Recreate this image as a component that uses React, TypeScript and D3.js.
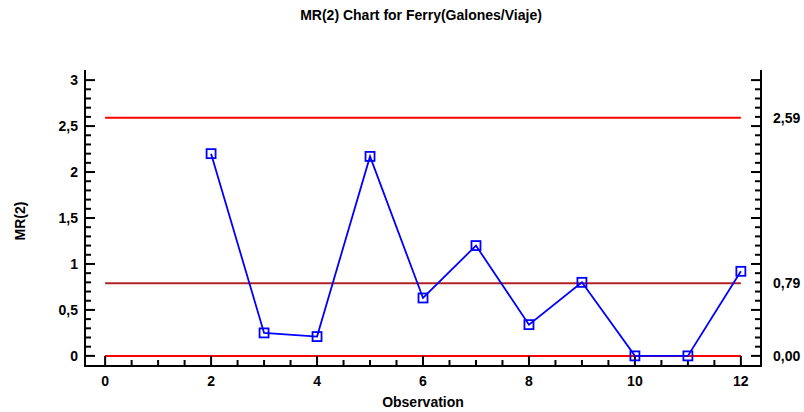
import * as d3 from "d3";

const observations = [2, 3, 4, 5, 6, 7, 8, 9, 10, 11, 12];
const mrValues = [2.2, 0.25, 0.21, 2.17, 0.63, 1.2, 0.34, 0.8, 0, 0, 0.92];
const limitValues = [2.59, 0.79, 0.0];
const limitLabels = ["2,59", "0,79", "0,00"];
const limitColors = ["#ff0000", "#b22222", "#ff0000"];
const yTicks = [0, 0.5, 1, 1.5, 2, 2.5, 3];
const xTicks = [0, 2, 4, 6, 8, 10, 12];

const W = 804;
const H = 412;
const left = 85;
const right = 761;
const top = 70;
const bottom = 366;
const font = "'Liberation Sans', Arial, sans-serif";

const fmt = (v: number) => String(v).replace(".", ",");

function App() {
  const x = d3.scaleLinear().domain([-0.38, 12.38]).range([left, right]);
  const y = d3.scaleLinear().domain([-0.11, 3.11]).range([bottom, top]);
  const line = d3
    .line<number>()
    .x((_, i) => x(observations[i]))
    .y((d) => y(d));

  const yMinor = d3.range(0, 31).map((i) => i / 10).filter((v) => Math.round(v * 10) % 5 !== 0);
  const xMinor = d3.range(0, 25).map((i) => i / 2).filter((v) => v % 2 !== 0);

  return (
    <svg width={W} height={H} style={{ position: "absolute", left: 0, top: 0 }}>
      <rect width={W} height={H} fill="white" />
      <text x={421} y={20} textAnchor="middle" fontFamily={font} fontWeight="bold" fontSize={14}>
        MR(2) Chart for Ferry(Galones/Viaje)
      </text>

      {/* control limits */}
      {limitValues.map((v, i) => (
        <line key={i} x1={x(0)} x2={x(12)} y1={y(v)} y2={y(v)} stroke={limitColors[i]} strokeWidth={2} />
      ))}

      {/* axes */}
      <g stroke="black" strokeWidth={2} fill="none">
        <path d={`M${left},${top}V${bottom}H${right}V${top}`} />
        {yTicks.map((v) => (
          <g key={v}>
            <line x1={left} x2={left + 10} y1={y(v)} y2={y(v)} />
            <line x1={right} x2={right - 10} y1={y(v)} y2={y(v)} />
          </g>
        ))}
        {yMinor.map((v) => (
          <g key={v}>
            <line x1={left} x2={left + 6} y1={y(v)} y2={y(v)} />
            <line x1={right} x2={right - 6} y1={y(v)} y2={y(v)} />
          </g>
        ))}
        {xTicks.map((v) => (
          <line key={v} x1={x(v)} x2={x(v)} y1={bottom} y2={bottom - 10} />
        ))}
        {xMinor.map((v) => (
          <line key={v} x1={x(v)} x2={x(v)} y1={bottom} y2={bottom - 6} />
        ))}
      </g>

      <g fontFamily={font} fontWeight="bold" fontSize={14} fill="black">
        {yTicks.map((v) => (
          <text key={v} x={left - 7} y={y(v)} dy="0.35em" textAnchor="end">
            {fmt(v)}
          </text>
        ))}
        {xTicks.map((v) => (
          <text key={v} x={x(v)} y={bottom + 20} textAnchor="middle">
            {v}
          </text>
        ))}
        {limitValues.map((v, i) => (
          <text key={i} x={right + 12} y={y(v)} dy="0.35em">
            {limitLabels[i]}
          </text>
        ))}
        <text x={x(6)} y={407} textAnchor="middle">
          Observation
        </text>
        <text transform={`translate(25,221) rotate(-90)`} textAnchor="middle">
          MR(2)
        </text>
      </g>

      {/* data */}
      <path d={line(mrValues) || ""} fill="none" stroke="#0000ff" strokeWidth={1.8} />
      {mrValues.map((v, i) => (
        <rect
          key={i}
          x={x(observations[i]) - 4.5}
          y={y(v) - 4.5}
          width={9}
          height={9}
          fill="none"
          stroke="#0000ff"
          strokeWidth={1.8}
        />
      ))}
    </svg>
  );
}

export default App;
